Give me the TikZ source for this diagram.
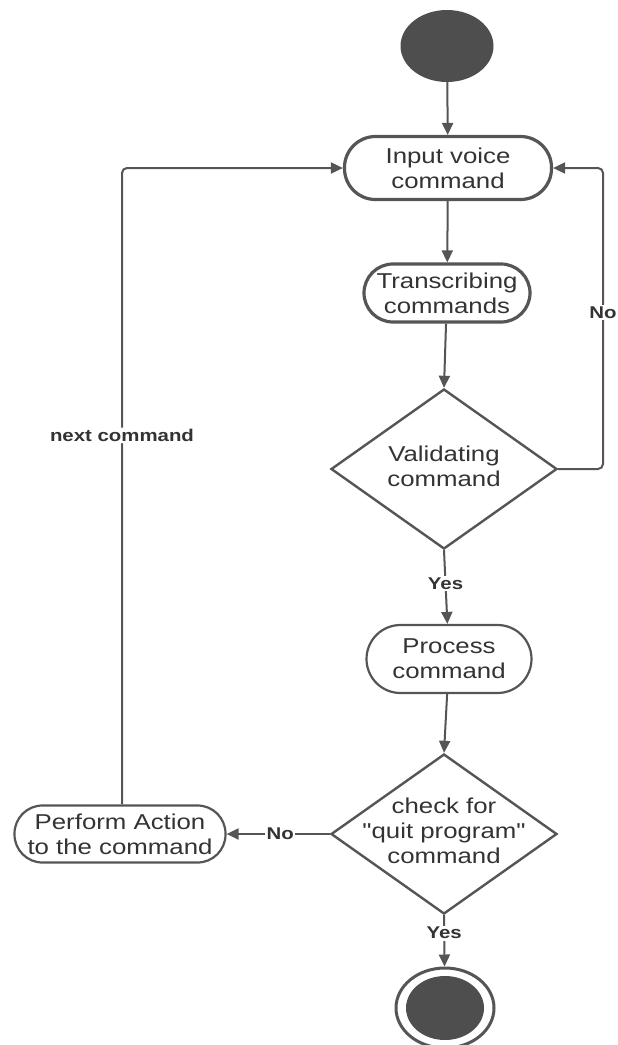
\documentclass[tikz,border=0pt]{standalone}
\usepackage{fontspec}
\setmainfont{Liberation Sans}[FakeStretch=1.2, Ligatures=TeXOff]
\usetikzlibrary{shapes.geometric,arrows.meta}

\definecolor{ink}{HTML}{555555}
\definecolor{txt}{HTML}{333333}

\tikzset{
  flow/.style={draw=ink, line width=2pt, -{Triangle[length=12pt,width=11pt]}},
  loopline/.style={flow, rounded corners=5pt},
  pill/.style={draw=ink, fill=white, rectangle, inner sep=0pt, align=center,
    text=txt, font=\fontsize{21.5}{25}\selectfont},
  thickpill/.style={pill, line width=3.2pt},
  thinpill/.style={pill, line width=2.2pt},
  decision/.style={draw=ink, line width=2.4pt, diamond, inner sep=0pt,
    minimum width=226pt, minimum height=160pt},
  dtext/.style={align=center, text=txt, inner sep=0pt,
    font=\fontsize{21.5}{25}\selectfont},
  guard/.style={fill=white, text=txt, inner sep=1.5pt,
    font=\bfseries\fontsize{17}{20}\selectfont},
}

\begin{document}
\begin{tikzpicture}[x=1pt,y=-1pt]
  \useasboundingbox (0,0) rectangle (618,1045);

  % initial state
  \node (start) [ellipse, fill=ink!92!black, minimum width=93pt, minimum height=72pt, inner sep=0pt] at (447,46) {};

  % activities
  \node (input) [thickpill, rounded corners=31pt, minimum width=207pt, minimum height=63pt] at (448,168) {Input voice\\command};
  \node (trans) [thickpill, rounded corners=29pt, minimum width=166pt, minimum height=58pt] at (447,293) {Transcribing\\commands};
  \node (valid) [decision] at (444,469) {};
  \node (validT) [dtext] at (444,466) {Validating\\command};
  \node (proc) [thinpill, rounded corners=34pt, minimum width=165pt, minimum height=68pt] at (449,659) {Process\\command};
  \node (check) [decision] at (444,834) {};
  \node (checkT) [dtext] at (444,831) {check for\\"quit program"\\command};
  \node (perform) [thinpill, rounded corners=28pt, minimum width=211pt, minimum height=57pt] at (120,834) {Perform Action\\to the command};

  % final state
  \node (stop) [ellipse, draw=ink, line width=3pt, minimum width=98pt, minimum height=80pt, inner sep=0pt] at (445,1008) {};
  \node (stopIn) [ellipse, fill=ink!92!black, minimum width=78pt, minimum height=64pt, inner sep=0pt] at (445,1008) {};

  % loop turning points
  \coordinate (noR) at (603,469);
  \coordinate (noTop) at (603,168);
  \coordinate (nxBot) at (122,805);
  \coordinate (nxTop) at (122,168);

  % flow
  \draw[flow] (start) -- (input);
  \draw[flow] (input) -- (trans);
  \draw[flow] (trans) -- (valid.north);
  \draw[flow] (valid.south) -- node[guard, pos=0.45] (yes1) {Yes} (proc);
  \draw[loopline] (valid.east) -- (noR) -- node[guard, pos=0.52] (no1) {No} (noTop) -- (input.east);
  \draw[flow] (proc) -- (check.north);
  \draw[flow] (check.west) -- node[guard, pos=0.48] (no2) {No} (perform.east);
  \draw[loopline] (perform.north -| nxBot) -- node[guard, pos=0.58] (next) {next command} (nxTop) -- (input.west);
  \draw[flow] (check.south) -- node[guard, pos=0.35] (yes2) {Yes} (stop);
\end{tikzpicture}
\end{document}
